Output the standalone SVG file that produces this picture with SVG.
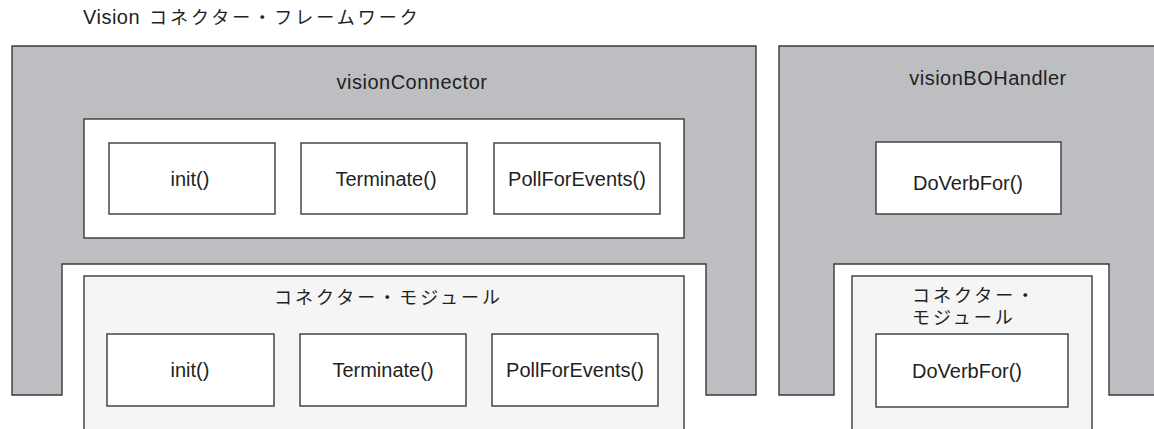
<svg xmlns="http://www.w3.org/2000/svg" width="1154" height="429" viewBox="0 0 1154 429">
<style>
.panel{fill:#bdbec1;stroke:#3a3a3a;stroke-width:1.4}
.box{fill:#ffffff;stroke:#3a3a3a;stroke-width:1.4}
.mod{fill:#f5f5f5;stroke:#3a3a3a;stroke-width:1.4}
.t{font-family:"Liberation Sans",Arial,"Noto Sans CJK JP",sans-serif;font-size:20px;fill:#231f20}
.c{text-anchor:middle}
.j{font-family:"Noto Sans CJK JP","Liberation Sans",sans-serif;font-size:18px;fill:#231f20;letter-spacing:3px}
</style>
<rect width="1154" height="429" fill="#ffffff"/>
<g id="title">
<text class="t" x="83" y="24" letter-spacing="0.5">Vision</text>
<text class="j" x="149" y="24">コネクター・フレームワーク</text>
</g>
<g id="visionConnector">
<path class="panel" d="M12,46 H756 V395 H706 V264 H62 V395 H12 Z"/>
<text class="t c" x="412" y="89" letter-spacing="0.5">visionConnector</text>
<rect class="box" x="84" y="119" width="600" height="119"/>
<g id="vc-init"><rect class="box" x="109" y="143" width="166" height="71"/><text class="t c" x="190" y="186">init()</text></g>
<g id="vc-terminate"><rect class="box" x="301" y="143" width="166" height="71"/><text class="t c" x="386" y="186">Terminate()</text></g>
<g id="vc-poll"><rect class="box" x="494" y="143" width="166" height="71"/><text class="t c" x="577" y="186">PollForEvents()</text></g>
</g>
<g id="connectorModule">
<rect class="mod" x="84" y="276" width="600" height="170"/>
<text class="j" x="274" y="304">コネクター・モジュール</text>
<g id="cm-init"><rect class="box" x="107" y="334" width="167" height="72"/><text class="t c" x="190" y="377">init()</text></g>
<g id="cm-terminate"><rect class="box" x="300" y="334" width="166" height="72"/><text class="t c" x="383" y="377">Terminate()</text></g>
<g id="cm-poll"><rect class="box" x="492" y="334" width="166" height="72"/><text class="t c" x="575" y="377">PollForEvents()</text></g>
</g>
<g id="visionBOHandler">
<path class="panel" d="M779,46 H1170 V395 H1109 V264 H834 V395 H779 Z"/>
<text class="t c" x="988" y="85" letter-spacing="0.5">visionBOHandler</text>
<g id="bo-doverb"><rect class="box" x="876" y="142" width="185" height="72"/><text class="t c" x="968" y="190">DoVerbFor()</text></g>
</g>
<g id="boModule">
<rect class="mod" x="852" y="276" width="240" height="170"/>
<text class="j" x="912" y="302">コネクター・</text>
<text class="j" x="912" y="324">モジュール</text>
<g id="bm-doverb"><rect class="box" x="876" y="334" width="192" height="73"/><text class="t c" x="967" y="378">DoVerbFor()</text></g>
</g>
<g id="connectors"/>
</svg>
